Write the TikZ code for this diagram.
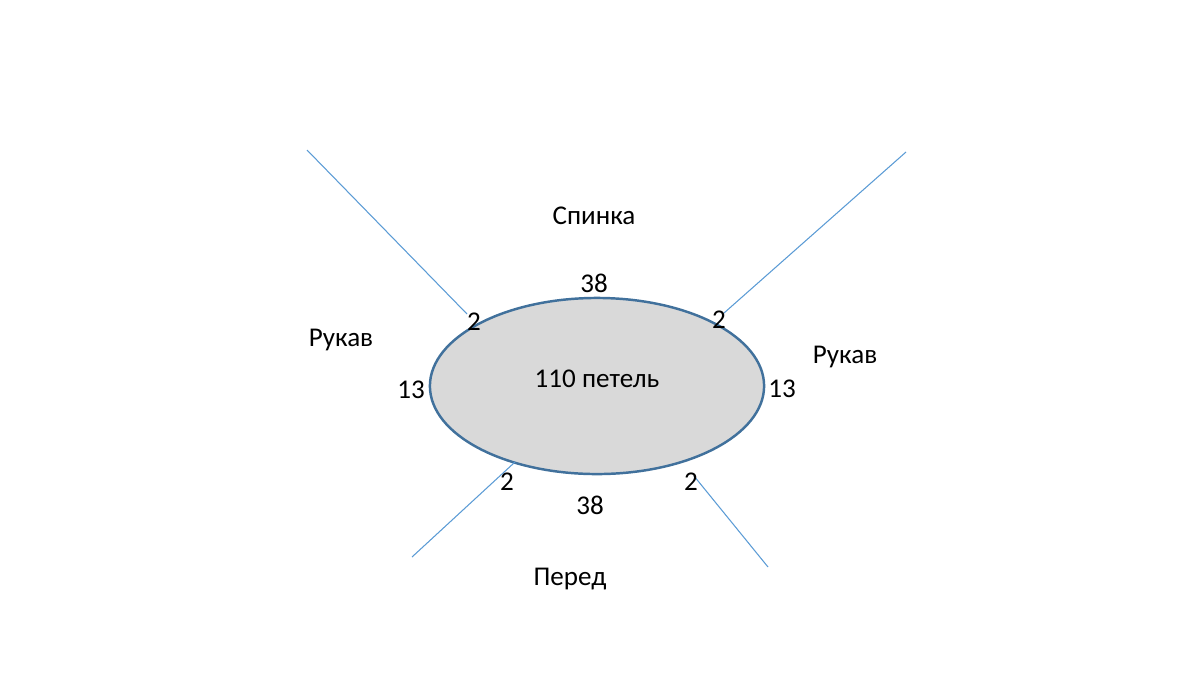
\documentclass[tikz,border=0pt]{standalone}
\usepackage{fontspec}
\setmainfont{Carlito}
\usetikzlibrary{shapes.geometric}
\definecolor{rimblue}{HTML}{41719C}
\definecolor{lineblue}{HTML}{5B9BD5}
\definecolor{neckgray}{HTML}{D9D9D9}
\tikzset{
  lbl/.style={anchor=base, inner sep=0pt, font=\fontsize{7.7}{9}\selectfont},
  seam/.style={draw=lineblue, line width=0.3pt},
}
\begin{document}
\begin{tikzpicture}[x=0.01cm, y=-0.01cm]
                \useasboundingbox (0, 0) rectangle (1200, 675);
                \node[ellipse, draw=rimblue, fill=neckgray, line width=0.7pt, minimum width=3.34cm, minimum height=1.76cm, inner sep=0pt] (neck) at (597, 386) {};
                \node[lbl] (count) at (597, 387) {110 петель};
                % free ends of the seams
                \coordinate (tlout) at (307, 150);
                \coordinate (tlin) at (467, 314);
                \coordinate (trout) at (906, 152);
                \coordinate (trin) at (724, 313);
                \coordinate (blout) at (412, 557);
                \coordinate (blin) at (515, 462);
                \coordinate (brout) at (768, 567);
                \coordinate (brin) at (694, 476);
                \draw[seam] (tlout) -- (tlin);
                \draw[seam] (trout) -- (trin);
                \draw[seam] (blout) -- (blin);
                \draw[seam] (brout) -- (brin);
                % labels
                \node[lbl] (back) at (594, 224) {Спинка};
                \node[lbl] (backn) at (594, 292) {38};
                \node[lbl] (tln) at (474, 330) {2};
                \node[lbl] (trn) at (719, 328) {2};
                \node[lbl] (sleevel) at (341, 346) {Рукав};
                \node[lbl] (sleever) at (845, 363) {Рукав};
                \node[lbl] (sleeveln) at (411, 398) {13};
                \node[lbl] (sleevern) at (782, 397) {13};
                \node[lbl] (bln) at (507, 490) {2};
                \node[lbl] (brn) at (691, 490) {2};
                \node[lbl] (frontn) at (590, 514) {38};
                \node[lbl] (front) at (570, 585) {Перед};
            \end{tikzpicture}
\end{document}
